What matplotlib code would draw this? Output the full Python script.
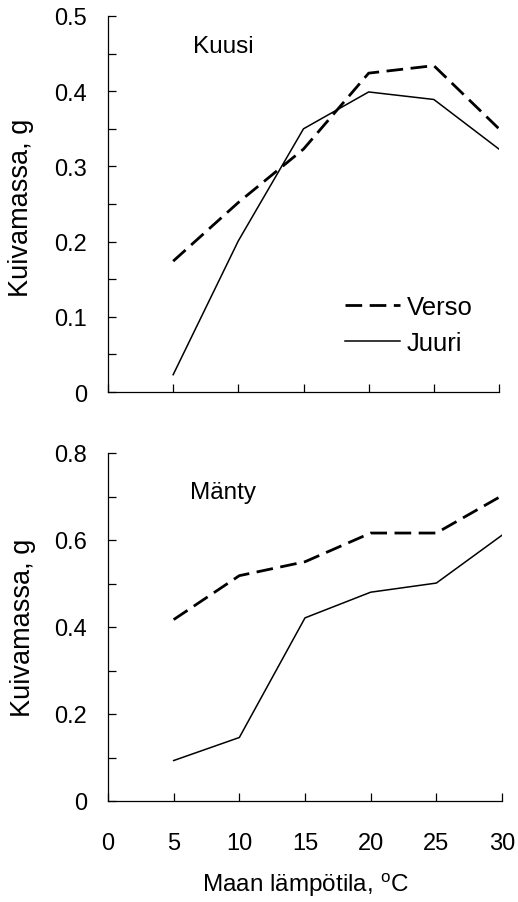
import matplotlib
matplotlib.use("Agg")
import matplotlib.pyplot as plt
from matplotlib.ticker import MultipleLocator

plt.rcParams['font.family'] = ['Liberation Sans', 'DejaVu Sans']
plt.rcParams['mathtext.fontset'] = 'custom'
plt.rcParams['mathtext.rm'] = 'Liberation Sans'

temps = [5, 10, 15, 20, 25, 30]

kuusi_verso = [0.174, 0.252, 0.323, 0.424, 0.434, 0.350]
kuusi_juuri = [0.023, 0.201, 0.350, 0.399, 0.389, 0.323]

manty_verso = [0.417, 0.518, 0.550, 0.616, 0.616, 0.702]
manty_juuri = [0.093, 0.146, 0.421, 0.480, 0.501, 0.611]

TICK_FS = 17
LABEL_FS = 19.5
XLABEL_FS = 17.5
NAME_FS = 17.5
LEG_FS = 18.5

fig = plt.figure(figsize=(5.18, 9.03), dpi=100)
ax1 = fig.add_axes([108 / 518, 1 - 393 / 903, 391 / 518, 376 / 903])
ax2 = fig.add_axes([108 / 518, 1 - 802 / 903, 394 / 518, 348 / 903])

dash_style = dict(color="black", linewidth=2.0, dashes=(6, 2.7), label="Verso")
solid_style = dict(color="black", linewidth=1.1, label="Juuri")


def style_axes(ax, ymax, step, label_step):
    ax.set_xlim(0, 30)
    ax.set_ylim(0, ymax)
    ax.spines["top"].set_visible(False)
    ax.spines["right"].set_visible(False)
    for s in ("left", "bottom"):
        ax.spines[s].set_linewidth(0.9)
    ax.xaxis.set_major_locator(MultipleLocator(5))
    ax.yaxis.set_major_locator(MultipleLocator(label_step))
    ax.yaxis.set_minor_locator(MultipleLocator(step))
    ax.tick_params(axis="both", which="both", direction="in", length=5.5,
                   width=0.9, labelsize=TICK_FS)
    ax.tick_params(axis="y", pad=15)
    ax.tick_params(axis="x", pad=22)
    ax.yaxis.set_major_formatter(
        plt.FuncFormatter(lambda v, p: "0" if v == 0 else f"{v:g}"))
    ax.set_ylabel("Kuivamassa, g", fontsize=LABEL_FS)


# Kuusi
ax1.plot(temps, kuusi_verso, **dash_style)
ax1.plot(temps, kuusi_juuri, **solid_style)
style_axes(ax1, 0.5, 0.05, 0.1)
ax1.tick_params(axis="x", labelbottom=False)
ax1.yaxis.set_label_coords(-0.189, 0.493)
ax1.text(0.2166, 0.905, "Kuusi", transform=ax1.transAxes, fontsize=NAME_FS,
         va="baseline")
ax1.legend(loc="upper left", bbox_to_anchor=(0.606, 0.257), frameon=False,
           fontsize=LEG_FS, handlelength=2.14, handletextpad=0.27,
           borderpad=0, borderaxespad=0, labelspacing=0.45)

# Mänty
ax2.plot(temps, manty_verso, **dash_style)
ax2.plot(temps, manty_juuri, **solid_style)
style_axes(ax2, 0.8, 0.1, 0.2)
ax2.yaxis.set_label_coords(-0.183, 0.5)
ax2.text(0.208, 0.87, "Mänty", transform=ax2.transAxes, fontsize=NAME_FS,
         va="baseline")
ax2.set_xlabel("Maan lämpötila, $^{\\rm o}$C", fontsize=XLABEL_FS, va="top")
ax2.xaxis.set_label_coords(0.5, -0.198)

fig.savefig("out.png", dpi=100)
plt.close(fig)
